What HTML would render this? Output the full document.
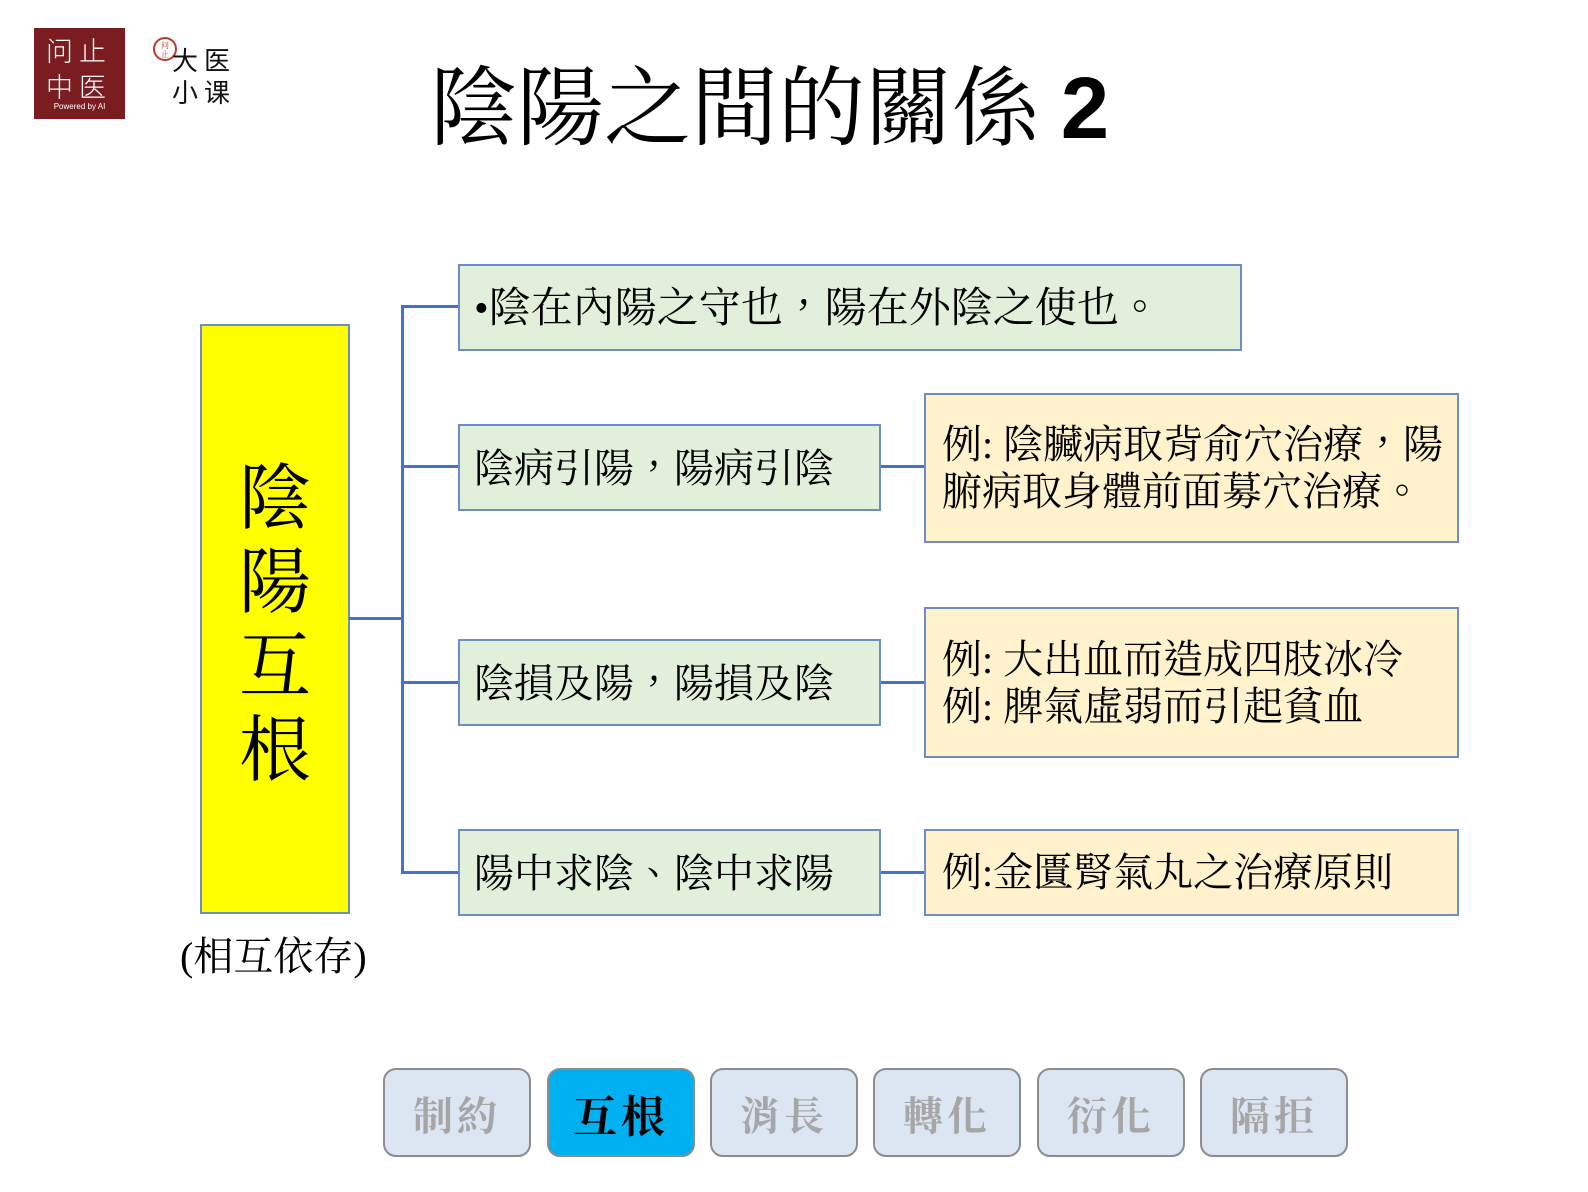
<!DOCTYPE html>
<html><head><meta charset="utf-8"><style>
body{margin:0;width:1588px;height:1192px;background:#fff;position:relative;overflow:hidden;font-family:"Liberation Serif","Noto Serif CJK TC","Noto Serif CJK SC",serif;}
.a{position:absolute;box-sizing:border-box}
.g{background:#e2efda;border:2px solid #6d8dc4;font-size:40px;line-height:86px;padding-left:14px;white-space:nowrap}
.o{background:#fff2cc;border:2px solid #6d8dc4;font-size:40px;line-height:47px;padding-left:16px;display:flex;flex-direction:column;justify-content:center;white-space:nowrap}
.l{position:absolute;background:#4472c4}
.b{position:absolute;top:1068px;width:148px;height:89px;border:2px solid #8c8c8c;border-radius:13px;background:#dce6f2;color:#a6a6a6;font-weight:bold;font-size:40px;text-align:center;line-height:87px;letter-spacing:4px;box-sizing:border-box;font-family:"Noto Serif CJK TC","Noto Serif CJK SC",serif}
</style></head><body>
<div class="a" style="left:34px;top:28px;width:91px;height:91px;background:#7a1c20;color:#fff;font-family:'Noto Sans CJK SC',sans-serif;font-weight:300">
<div style="position:absolute;left:12px;top:4px;font-size:27px;letter-spacing:6px;line-height:36px">问止<br>中医</div>
<div style="position:absolute;left:0;width:91px;top:74px;font-size:8px;text-align:center;font-family:'Liberation Sans',sans-serif">Powered by AI</div></div>
<div class="a" style="left:153px;top:37px;width:24px;height:24px;border:2px solid #c0392b;border-radius:50%;color:#c0392b;font-size:8px;line-height:9px;text-align:center;padding-top:2px">问<br>止</div>
<div class="a" style="left:172px;top:44px;font-size:26px;line-height:32px;font-family:'Noto Sans CJK SC',sans-serif;letter-spacing:6px;color:#111">大医<br>小课</div>
<div class="a" style="left:430px;top:54px;font-size:87px;line-height:110px;white-space:nowrap;color:#000">陰陽之間的關係 <b style="font-family:'Liberation Sans',sans-serif">2</b></div>
<div class="a" style="left:200px;top:324px;width:150px;height:590px;background:#ff0;border:2px solid #6d8dc4"></div>
<div class="a" style="left:200px;top:457px;width:150px;font-size:72px;line-height:84px;text-align:center">陰<br>陽<br>互<br>根</div>
<div class="a" style="left:180px;top:934px;font-size:40px;line-height:46px;white-space:nowrap">(相互依存)</div>
<div class="l" style="left:349px;top:617px;width:55px;height:3px"></div>
<div class="l" style="left:401px;top:305px;width:3px;height:569px"></div>
<div class="l" style="left:401px;top:305px;width:58px;height:3px"></div>
<div class="l" style="left:401px;top:465px;width:58px;height:3px"></div>
<div class="l" style="left:401px;top:681px;width:58px;height:3px"></div>
<div class="l" style="left:401px;top:871px;width:58px;height:3px"></div>
<div class="l" style="left:879px;top:465px;width:46px;height:3px"></div>
<div class="l" style="left:879px;top:681px;width:46px;height:3px"></div>
<div class="l" style="left:879px;top:871px;width:46px;height:3px"></div>
<div class="a g" style="left:458px;top:264px;width:784px;height:87px;font-size:42px">•陰在內陽之守也，陽在外陰之使也。</div>
<div class="a g" style="left:458px;top:424px;width:423px;height:87px">陰病引陽，陽病引陰</div>
<div class="a g" style="left:458px;top:639px;width:423px;height:87px">陰損及陽，陽損及陰</div>
<div class="a g" style="left:458px;top:829px;width:423px;height:87px">陽中求陰、陰中求陽</div>
<div class="a o" style="left:924px;top:393px;width:535px;height:150px"><div>例: 陰臟病取背俞穴治療，陽</div><div>腑病取身體前面募穴治療。</div></div>
<div class="a o" style="left:924px;top:607px;width:535px;height:151px"><div>例: 大出血而造成四肢冰冷</div><div>例: 脾氣虛弱而引起貧血</div></div>
<div class="a o" style="left:924px;top:829px;width:535px;height:87px"><div>例:金匱腎氣丸之治療原則</div></div>
<div class="b" style="left:383px">制約</div>
<div class="b" style="left:547px;background:#00b0f0;color:#000;font-size:44px">互根</div>
<div class="b" style="left:710px">消長</div>
<div class="b" style="left:873px">轉化</div>
<div class="b" style="left:1037px">衍化</div>
<div class="b" style="left:1200px">隔拒</div>
</body></html>
